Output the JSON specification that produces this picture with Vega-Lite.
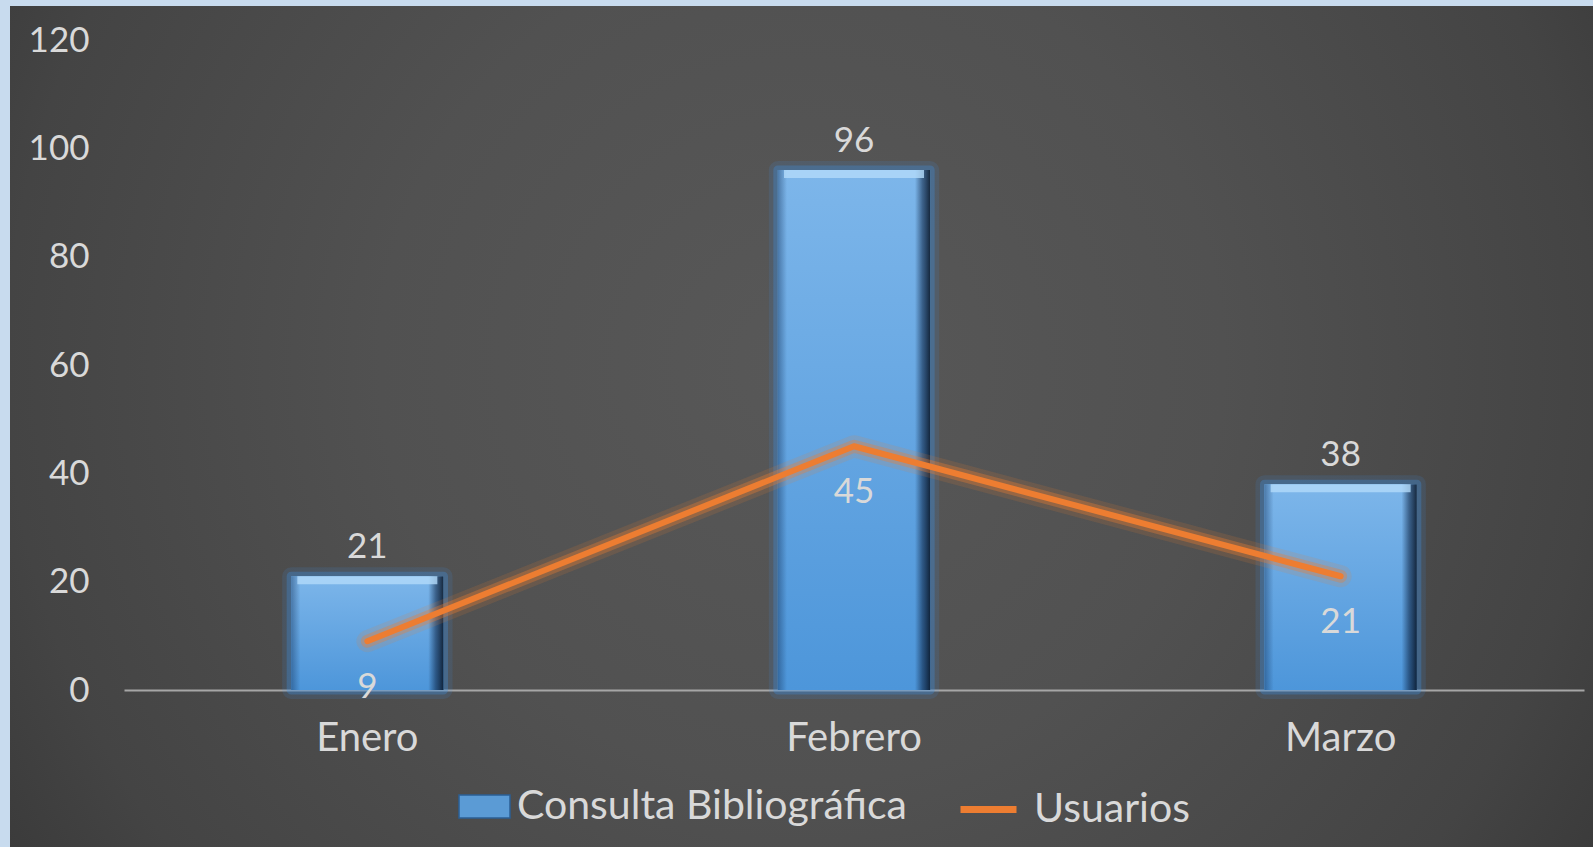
{
  "$schema": "https://vega.github.io/schema/vega-lite/v6.json",
  "width": 1583,
  "height": 841,
  "autosize": {"type": "none"},
  "padding": {"left": 10, "top": 6, "right": 0, "bottom": 0},
  "background": "#c8dbee",
  "view": {
    "stroke": null,
    "fill": {
      "gradient": "radial",
      "x1": 0.5, "y1": 0.46, "r1": 0,
      "x2": 0.5, "y2": 0.46, "r2": 0.76,
      "stops": [
        {"offset": 0, "color": "#585858"},
        {"offset": 0.35, "color": "#515151"},
        {"offset": 0.66, "color": "#444444"},
        {"offset": 1, "color": "#292929"}
      ]
    }
  },
  "config": {
    "font": "Lato",
    "axisY": {
      "domain": false,
      "ticks": false,
      "grid": false,
      "offset": -114,
      "labelPadding": 35,
      "labelFontSize": 35,
      "labelColor": "#d9d9d9",
      "labelFont": "Lato"
    },
    "axisX": {
      "domainColor": "#a6a6a6",
      "domainWidth": 2,
      "ticks": false,
      "grid": false,
      "offset": -157,
      "labelPadding": 28,
      "labelFontSize": 40,
      "labelColor": "#d9d9d9",
      "labelFont": "Lato",
      "labelAngle": 0
    },
    "legend": {
      "labelFontSize": 41,
      "labelColor": "#d9d9d9",
      "labelFont": "Lato",
      "labelLimit": 600,
      "padding": 0
    }
  },
  "data": {
    "values": [
      {"mes": "Enero", "consulta": 21, "usuarios": 9},
      {"mes": "Febrero", "consulta": 96, "usuarios": 45},
      {"mes": "Marzo", "consulta": 38, "usuarios": 21}
    ]
  },
  "encoding": {
    "x": {
      "field": "mes",
      "type": "nominal",
      "sort": ["Enero", "Febrero", "Marzo"],
      "scale": {"paddingInner": 0, "paddingOuter": 0, "range": [114, 1574]},
      "axis": {"title": null}
    }
  },
  "layer": [
    {
      "mark": {"type": "bar", "width": {"band": 0.313}, "fill": "transparent", "stroke": "#3f8fe0", "strokeWidth": 18, "strokeOpacity": 0.14, "strokeJoin": "round"},
      "encoding": {
        "y": {"field": "consulta", "type": "quantitative", "scale": {"domain": [0, 120], "range": [684, 34]}, "axis": {"title": null, "values": [0, 20, 40, 60, 80, 100, 120]}}
      }
    },
    {
      "mark": {"type": "bar", "width": {"band": 0.313}, "fill": "transparent", "stroke": "#3f8fe0", "strokeWidth": 9, "strokeOpacity": 0.32, "strokeJoin": "round"},
      "encoding": {
        "y": {"field": "consulta", "type": "quantitative", "scale": {"domain": [0, 120], "range": [684, 34]}, "axis": {"title": null, "values": [0, 20, 40, 60, 80, 100, 120]}}
      }
    },
    {
      "mark": {"type": "bar", "width": {"band": 0.313}},
      "encoding": {
        "y": {"field": "consulta", "type": "quantitative", "scale": {"domain": [0, 120], "range": [684, 34]}, "axis": {"title": null, "values": [0, 20, 40, 60, 80, 100, 120]}},
        "fill": {
          "datum": "Consulta Bibliográfica",
          "scale": {"range": ["#5b9bd5"]},
          "legend": {
            "title": null,
            "orient": "none",
            "legendX": 448,
            "legendY": 774,
            "symbolType": "M-1,-0.45H1V0.45H-1Z",
            "symbolSize": 2601,
            "symbolStrokeColor": "#2b5f94",
            "symbolStrokeWidth": 1.5,
            "symbolOpacity": 1,
            "labelOffset": 6
          }
        }
      }
    },
    {
      "mark": {
        "type": "bar",
        "width": {"band": 0.313},
        "color": {
          "gradient": "linear",
          "x1": 0, "y1": 0, "x2": 0, "y2": 1,
          "stops": [
            {"offset": 0, "color": "#7db6ea"},
            {"offset": 1, "color": "#4d96da"}
          ]
        }
      },
      "encoding": {
        "y": {"field": "consulta", "type": "quantitative", "scale": {"domain": [0, 120], "range": [684, 34]}, "axis": {"title": null, "values": [0, 20, 40, 60, 80, 100, 120]}}
      }
    },
    {
      "mark": {
        "type": "bar",
        "width": {"band": 0.313},
        "color": {
          "gradient": "linear",
          "x1": 0, "y1": 0, "x2": 1, "y2": 0,
          "stops": [
            {"offset": 0, "color": "rgba(20,50,90,0.45)"},
            {"offset": 0.06, "color": "rgba(20,50,90,0)"},
            {"offset": 0.9, "color": "rgba(10,30,60,0)"},
            {"offset": 0.95, "color": "rgba(10,30,60,0.55)"},
            {"offset": 1, "color": "rgba(5,15,30,0.85)"}
          ]
        }
      },
      "encoding": {
        "y": {"field": "consulta", "type": "quantitative", "scale": {"domain": [0, 120], "range": [684, 34]}, "axis": {"title": null, "values": [0, 20, 40, 60, 80, 100, 120]}}
      }
    },
    {
      "mark": {"type": "tick", "orient": "horizontal", "size": 140, "thickness": 8, "yOffset": 4, "color": "#b3dbfa", "opacity": 0.8},
      "encoding": {
        "y": {"field": "consulta", "type": "quantitative", "scale": {"domain": [0, 120], "range": [684, 34]}, "axis": {"title": null, "values": [0, 20, 40, 60, 80, 100, 120]}}
      }
    },
    {
      "mark": {"type": "line", "strokeWidth": 22, "color": "#ED7D31", "opacity": 0.15, "strokeCap": "round", "strokeJoin": "round"},
      "encoding": {
        "y": {"field": "usuarios", "type": "quantitative", "scale": {"domain": [0, 120], "range": [684, 34]}, "axis": {"title": null, "values": [0, 20, 40, 60, 80, 100, 120]}}
      }
    },
    {
      "mark": {"type": "line", "strokeWidth": 13, "color": "#ED7D31", "opacity": 0.35, "strokeCap": "round", "strokeJoin": "round"},
      "encoding": {
        "y": {"field": "usuarios", "type": "quantitative", "scale": {"domain": [0, 120], "range": [684, 34]}, "axis": {"title": null, "values": [0, 20, 40, 60, 80, 100, 120]}}
      }
    },
    {
      "mark": {"type": "line", "strokeWidth": 6, "strokeCap": "round", "strokeJoin": "round"},
      "encoding": {
        "y": {"field": "usuarios", "type": "quantitative", "scale": {"domain": [0, 120], "range": [684, 34]}, "axis": {"title": null, "values": [0, 20, 40, 60, 80, 100, 120]}},
        "stroke": {
          "datum": "Usuarios",
          "scale": {"range": ["#ED7D31"]},
          "legend": {
            "title": null,
            "orient": "none",
            "legendX": 947,
            "legendY": 772,
            "symbolType": "stroke",
            "symbolSize": 3136,
            "symbolStrokeWidth": 7,
            "labelOffset": 14
          }
        }
      }
    },
    {
      "mark": {"type": "text", "baseline": "alphabetic", "dy": -18, "fontSize": 35, "color": "#d9d9d9"},
      "encoding": {
        "y": {"field": "consulta", "type": "quantitative", "scale": {"domain": [0, 120], "range": [684, 34]}, "axis": {"title": null, "values": [0, 20, 40, 60, 80, 100, 120]}},
        "text": {"field": "consulta", "type": "quantitative"}
      }
    },
    {
      "mark": {"type": "text", "baseline": "alphabetic", "dy": 57, "fontSize": 35, "color": "#d9d9d9"},
      "encoding": {
        "y": {"field": "usuarios", "type": "quantitative", "scale": {"domain": [0, 120], "range": [684, 34]}, "axis": {"title": null, "values": [0, 20, 40, 60, 80, 100, 120]}},
        "text": {"field": "usuarios", "type": "quantitative"}
      }
    }
  ]
}
